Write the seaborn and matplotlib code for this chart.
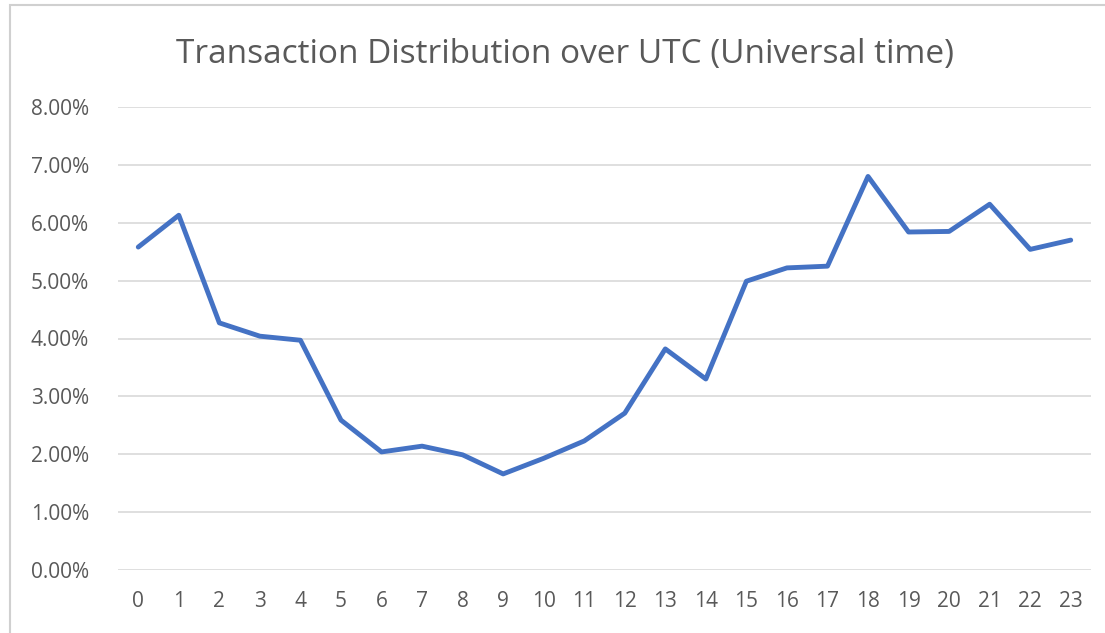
import matplotlib
matplotlib.use("Agg")
import matplotlib.pyplot as plt
import seaborn as sns
import pandas as pd
from matplotlib.ticker import PercentFormatter
from matplotlib.patches import Rectangle

# hour of day (UTC) and share of transactions in that hour
hours = list(range(24))
share = [5.58, 6.13, 4.27, 4.04, 3.97, 2.59, 2.04, 2.14, 1.99, 1.66, 1.93, 2.23,
         2.71, 3.82, 3.30, 4.99, 5.22, 5.25, 6.80, 5.84, 5.85, 6.32, 5.54, 5.70]

df = pd.DataFrame({'hour': hours, 'share': share})

sns.set_theme(style="white")
plt.rcParams['font.family'] = ['Open Sans', 'DejaVu Sans']

fig = plt.figure(figsize=(11.05, 6.33), dpi=100)
ax = fig.add_axes([118 / 1105, 1 - 570 / 633, (1091 - 118) / 1105, (570 - 107) / 633])

sns.lineplot(data=df, x='hour', y='share', color='#4472C4', linewidth=3.5, ax=ax)

ax.set_xlim(-0.5, 23.5)
ax.set_ylim(0, 8)
ax.set_yticks(range(0, 9))
ax.yaxis.set_major_formatter(PercentFormatter(decimals=2))
ax.set_xticks(hours)
ax.grid(axis='y', color='#D9D9D9', linewidth=1.2)
ax.set_axisbelow(True)
for s in ax.spines.values():
    s.set_visible(False)
ax.tick_params(axis='both', length=0, labelsize=15, colors='#595959')
ax.tick_params(axis='y', pad=21)
ax.tick_params(axis='x', pad=15)
ax.set_xlabel('')
ax.set_ylabel('')

fig.text(0.511, 1 - 55 / 633, 'Transaction Distribution over UTC (Universal time)',
         ha='center', va='center', fontsize=24, color='#595959')

# light frame around the chart area
fig.patches.append(Rectangle((10 / 1105, -0.01), 1.02, 1 - 5 / 633 + 0.01,
                             transform=fig.transFigure, fill=False,
                             edgecolor='#D0D0D0', linewidth=1.5))

fig.savefig('out.png', dpi=100)
